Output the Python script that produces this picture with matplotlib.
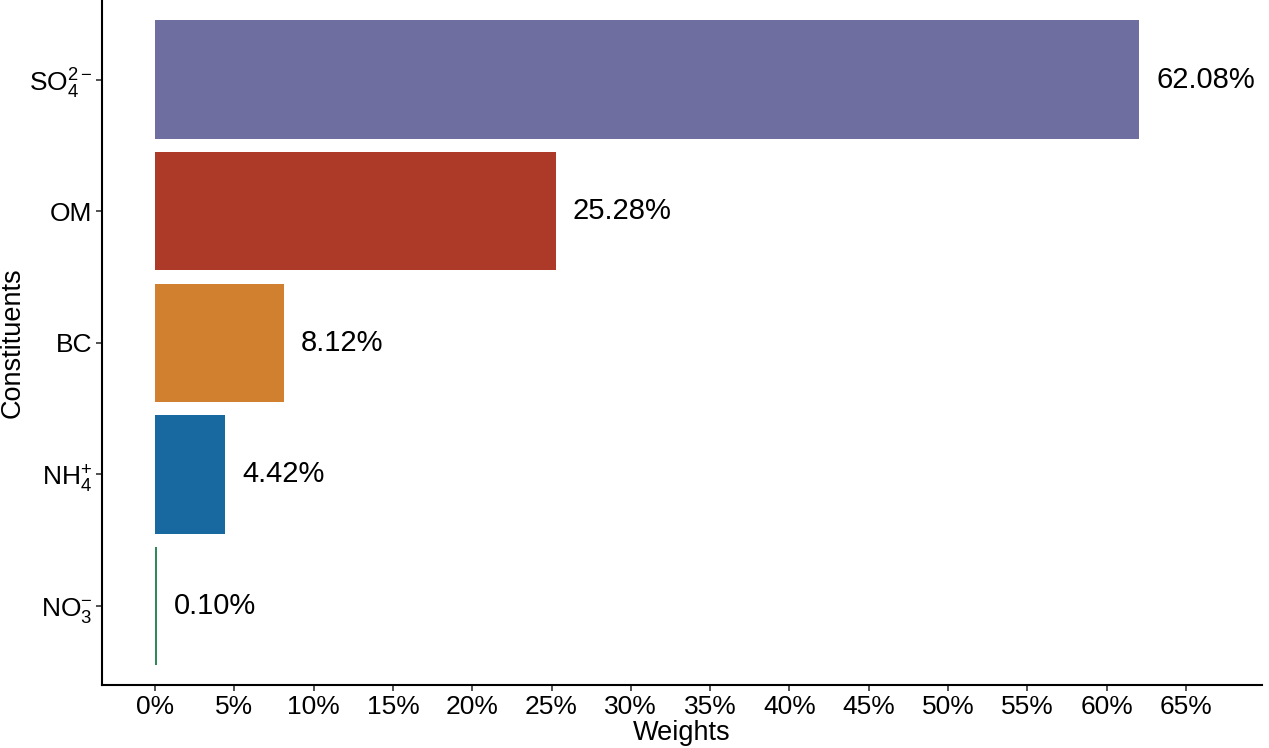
import matplotlib
matplotlib.use('Agg')
import matplotlib.pyplot as plt
from matplotlib.ticker import FuncFormatter

plt.rcParams['font.family'] = ['Liberation Sans', 'DejaVu Sans']
plt.rcParams['mathtext.fontset'] = 'custom'
plt.rcParams['mathtext.rm'] = 'Liberation Sans'
plt.rcParams['mathtext.it'] = 'Liberation Sans'

# data (bottom to top)
constituents = [r'NO$_3^{-}$', r'NH$_4^{+}$', 'BC', 'OM', r'SO$_4^{2-}$']
weights = [0.10, 4.42, 8.12, 25.28, 62.08]
colors = ['#2E8B57', '#1769A0', '#D0802F', '#AD3A28', '#6F6EA0']

fig = plt.figure(figsize=(12.69, 7.48), dpi=100)
ax = fig.add_axes([0.0804, 0.0842, 0.914, 0.915])

pos = range(len(constituents))
ax.barh(pos, weights, height=0.9, color=colors)

for p, w in zip(pos, weights):
    ax.annotate(f'{w:.2f}%', (w, p), xytext=(12, 0), textcoords='offset points',
                va='center', ha='left', fontsize=21)

ax.set_xlim(-3.35, 69.8)
ax.set_ylim(-0.6, 4.6)
ax.set_xticks(range(0, 70, 5))
ax.xaxis.set_major_formatter(FuncFormatter(lambda v, _: f'{v:.0f}%'))
ax.set_yticks(list(pos))
ax.set_yticklabels(constituents)
ax.tick_params(labelsize=19, length=4, width=1.2, color='#333333', colors='black', pad=3)

for s in ['top', 'right']:
    ax.spines[s].set_visible(False)
for s in ['left', 'bottom']:
    ax.spines[s].set_linewidth(1.5)

ax.set_xlabel('Weights', fontsize=19.5, labelpad=1)
ax.set_ylabel('Constituents', fontsize=19.5, labelpad=2)

fig.savefig('out.png')
